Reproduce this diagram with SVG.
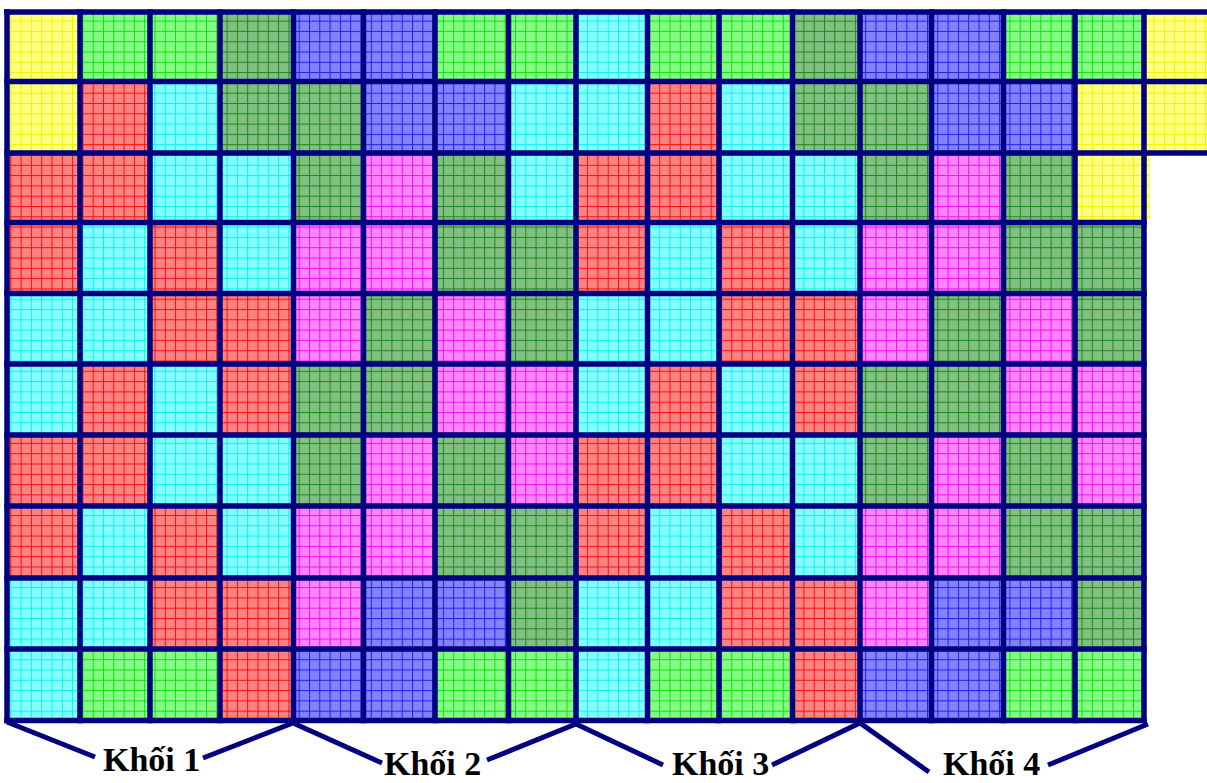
<svg xmlns="http://www.w3.org/2000/svg" width="1207" height="783" viewBox="0 0 1207 783">
<style>
.Y{fill:url(#pY)} .G{fill:url(#pG)} .D{fill:url(#pD)} .B{fill:url(#pB)} .R{fill:url(#pR)} .C{fill:url(#pC)} .M{fill:url(#pM)}
.gl{stroke:#000080;stroke-width:5.5;fill:none;stroke-linecap:square}
.br{stroke:#000080;stroke-width:5;fill:none;stroke-linecap:butt}
.lbl{font-family:"Liberation Serif","Times New Roman",serif;font-weight:bold;font-size:34px;fill:#000}
</style>
<defs>
<pattern id="pY" width="10.3" height="10.3" patternUnits="userSpaceOnUse"><rect width="10.3" height="10.3" fill="#ffff80"/><rect width="1" height="10.3" fill="#f2f200"/><rect width="10.3" height="1" fill="#f2f200"/></pattern>
<pattern id="pG" width="10.3" height="10.3" patternUnits="userSpaceOnUse"><rect width="10.3" height="10.3" fill="#84fc84"/><rect width="1" height="10.3" fill="#10e010"/><rect width="10.3" height="1" fill="#10e010"/></pattern>
<pattern id="pD" width="10.3" height="10.3" patternUnits="userSpaceOnUse"><rect width="10.3" height="10.3" fill="#82bf82"/><rect width="1" height="10.3" fill="#1a8a1a"/><rect width="10.3" height="1" fill="#1a8a1a"/></pattern>
<pattern id="pB" width="10.3" height="10.3" patternUnits="userSpaceOnUse"><rect width="10.3" height="10.3" fill="#8282fc"/><rect width="1" height="10.3" fill="#2020f0"/><rect width="10.3" height="1" fill="#2020f0"/></pattern>
<pattern id="pR" width="10.3" height="10.3" patternUnits="userSpaceOnUse"><rect width="10.3" height="10.3" fill="#ff8282"/><rect width="1" height="10.3" fill="#f41010"/><rect width="10.3" height="1" fill="#f41010"/></pattern>
<pattern id="pC" width="10.3" height="10.3" patternUnits="userSpaceOnUse"><rect width="10.3" height="10.3" fill="#84ffff"/><rect width="1" height="10.3" fill="#10f0f0"/><rect width="10.3" height="1" fill="#10f0f0"/></pattern>
<pattern id="pM" width="10.3" height="10.3" patternUnits="userSpaceOnUse"><rect width="10.3" height="10.3" fill="#ff84ff"/><rect width="1" height="10.3" fill="#f010f0"/><rect width="10.3" height="1" fill="#f010f0"/></pattern>
</defs>
<rect width="1207" height="783" fill="#fff"/>
<g id="cells">
<g id="row-1">
<rect class="Y" x="7" y="12" width="73" height="69.5"/><rect class="G" x="80" y="12" width="70" height="69.5"/><rect class="G" x="150" y="12" width="70" height="69.5"/><rect class="D" x="220" y="12" width="73.5" height="69.5"/><rect class="B" x="293.5" y="12" width="70" height="69.5"/><rect class="B" x="363.5" y="12" width="71.5" height="69.5"/><rect class="G" x="435" y="12" width="73.5" height="69.5"/><rect class="G" x="508.5" y="12" width="67.5" height="69.5"/><rect class="C" x="576" y="12" width="71.5" height="69.5"/><rect class="G" x="647.5" y="12" width="71.5" height="69.5"/><rect class="G" x="719" y="12" width="73.5" height="69.5"/><rect class="D" x="792.5" y="12" width="67.5" height="69.5"/><rect class="B" x="860" y="12" width="71.5" height="69.5"/><rect class="B" x="931.5" y="12" width="72" height="69.5"/><rect class="G" x="1003.5" y="12" width="71.5" height="69.5"/><rect class="G" x="1075" y="12" width="69" height="69.5"/><rect class="Y" x="1144" y="12" width="66" height="69.5"/>
</g>
<g id="row-2">
<rect class="Y" x="7" y="81.5" width="73" height="71.5"/><rect class="R" x="80" y="81.5" width="70" height="71.5"/><rect class="C" x="150" y="81.5" width="70" height="71.5"/><rect class="D" x="220" y="81.5" width="73.5" height="71.5"/><rect class="D" x="293.5" y="81.5" width="70" height="71.5"/><rect class="B" x="363.5" y="81.5" width="71.5" height="71.5"/><rect class="B" x="435" y="81.5" width="73.5" height="71.5"/><rect class="C" x="508.5" y="81.5" width="67.5" height="71.5"/><rect class="C" x="576" y="81.5" width="71.5" height="71.5"/><rect class="R" x="647.5" y="81.5" width="71.5" height="71.5"/><rect class="C" x="719" y="81.5" width="73.5" height="71.5"/><rect class="D" x="792.5" y="81.5" width="67.5" height="71.5"/><rect class="D" x="860" y="81.5" width="71.5" height="71.5"/><rect class="B" x="931.5" y="81.5" width="72" height="71.5"/><rect class="B" x="1003.5" y="81.5" width="71.5" height="71.5"/><rect class="Y" x="1075" y="81.5" width="69" height="71.5"/><rect class="Y" x="1144" y="81.5" width="66" height="71.5"/>
</g>
<g id="row-3">
<rect class="R" x="7" y="153" width="73" height="69.5"/><rect class="R" x="80" y="153" width="70" height="69.5"/><rect class="C" x="150" y="153" width="70" height="69.5"/><rect class="C" x="220" y="153" width="73.5" height="69.5"/><rect class="D" x="293.5" y="153" width="70" height="69.5"/><rect class="M" x="363.5" y="153" width="71.5" height="69.5"/><rect class="D" x="435" y="153" width="73.5" height="69.5"/><rect class="C" x="508.5" y="153" width="67.5" height="69.5"/><rect class="R" x="576" y="153" width="71.5" height="69.5"/><rect class="R" x="647.5" y="153" width="71.5" height="69.5"/><rect class="C" x="719" y="153" width="73.5" height="69.5"/><rect class="C" x="792.5" y="153" width="67.5" height="69.5"/><rect class="D" x="860" y="153" width="71.5" height="69.5"/><rect class="M" x="931.5" y="153" width="72" height="69.5"/><rect class="D" x="1003.5" y="153" width="71.5" height="69.5"/><rect class="Y" x="1075" y="153" width="75" height="67"/>
</g>
<g id="row-4">
<rect class="R" x="7" y="222.5" width="73" height="71"/><rect class="C" x="80" y="222.5" width="70" height="71"/><rect class="R" x="150" y="222.5" width="70" height="71"/><rect class="C" x="220" y="222.5" width="73.5" height="71"/><rect class="M" x="293.5" y="222.5" width="70" height="71"/><rect class="M" x="363.5" y="222.5" width="71.5" height="71"/><rect class="D" x="435" y="222.5" width="73.5" height="71"/><rect class="D" x="508.5" y="222.5" width="67.5" height="71"/><rect class="R" x="576" y="222.5" width="71.5" height="71"/><rect class="C" x="647.5" y="222.5" width="71.5" height="71"/><rect class="R" x="719" y="222.5" width="73.5" height="71"/><rect class="C" x="792.5" y="222.5" width="67.5" height="71"/><rect class="M" x="860" y="222.5" width="71.5" height="71"/><rect class="M" x="931.5" y="222.5" width="72" height="71"/><rect class="D" x="1003.5" y="222.5" width="71.5" height="71"/><rect class="D" x="1075" y="222.5" width="69" height="71"/>
</g>
<g id="row-5">
<rect class="C" x="7" y="293.5" width="73" height="70.5"/><rect class="C" x="80" y="293.5" width="70" height="70.5"/><rect class="R" x="150" y="293.5" width="70" height="70.5"/><rect class="R" x="220" y="293.5" width="73.5" height="70.5"/><rect class="M" x="293.5" y="293.5" width="70" height="70.5"/><rect class="D" x="363.5" y="293.5" width="71.5" height="70.5"/><rect class="M" x="435" y="293.5" width="73.5" height="70.5"/><rect class="D" x="508.5" y="293.5" width="67.5" height="70.5"/><rect class="C" x="576" y="293.5" width="71.5" height="70.5"/><rect class="C" x="647.5" y="293.5" width="71.5" height="70.5"/><rect class="R" x="719" y="293.5" width="73.5" height="70.5"/><rect class="R" x="792.5" y="293.5" width="67.5" height="70.5"/><rect class="M" x="860" y="293.5" width="71.5" height="70.5"/><rect class="D" x="931.5" y="293.5" width="72" height="70.5"/><rect class="M" x="1003.5" y="293.5" width="71.5" height="70.5"/><rect class="D" x="1075" y="293.5" width="69" height="70.5"/>
</g>
<g id="row-6">
<rect class="C" x="7" y="364" width="73" height="71"/><rect class="R" x="80" y="364" width="70" height="71"/><rect class="C" x="150" y="364" width="70" height="71"/><rect class="R" x="220" y="364" width="73.5" height="71"/><rect class="D" x="293.5" y="364" width="70" height="71"/><rect class="D" x="363.5" y="364" width="71.5" height="71"/><rect class="M" x="435" y="364" width="73.5" height="71"/><rect class="M" x="508.5" y="364" width="67.5" height="71"/><rect class="C" x="576" y="364" width="71.5" height="71"/><rect class="R" x="647.5" y="364" width="71.5" height="71"/><rect class="C" x="719" y="364" width="73.5" height="71"/><rect class="R" x="792.5" y="364" width="67.5" height="71"/><rect class="D" x="860" y="364" width="71.5" height="71"/><rect class="D" x="931.5" y="364" width="72" height="71"/><rect class="M" x="1003.5" y="364" width="71.5" height="71"/><rect class="M" x="1075" y="364" width="69" height="71"/>
</g>
<g id="row-7">
<rect class="R" x="7" y="435" width="73" height="71"/><rect class="R" x="80" y="435" width="70" height="71"/><rect class="C" x="150" y="435" width="70" height="71"/><rect class="C" x="220" y="435" width="73.5" height="71"/><rect class="D" x="293.5" y="435" width="70" height="71"/><rect class="M" x="363.5" y="435" width="71.5" height="71"/><rect class="D" x="435" y="435" width="73.5" height="71"/><rect class="M" x="508.5" y="435" width="67.5" height="71"/><rect class="R" x="576" y="435" width="71.5" height="71"/><rect class="R" x="647.5" y="435" width="71.5" height="71"/><rect class="C" x="719" y="435" width="73.5" height="71"/><rect class="C" x="792.5" y="435" width="67.5" height="71"/><rect class="D" x="860" y="435" width="71.5" height="71"/><rect class="M" x="931.5" y="435" width="72" height="71"/><rect class="D" x="1003.5" y="435" width="71.5" height="71"/><rect class="M" x="1075" y="435" width="69" height="71"/>
</g>
<g id="row-8">
<rect class="R" x="7" y="506" width="73" height="72"/><rect class="C" x="80" y="506" width="70" height="72"/><rect class="R" x="150" y="506" width="70" height="72"/><rect class="C" x="220" y="506" width="73.5" height="72"/><rect class="M" x="293.5" y="506" width="70" height="72"/><rect class="M" x="363.5" y="506" width="71.5" height="72"/><rect class="D" x="435" y="506" width="73.5" height="72"/><rect class="D" x="508.5" y="506" width="67.5" height="72"/><rect class="R" x="576" y="506" width="71.5" height="72"/><rect class="C" x="647.5" y="506" width="71.5" height="72"/><rect class="R" x="719" y="506" width="73.5" height="72"/><rect class="C" x="792.5" y="506" width="67.5" height="72"/><rect class="M" x="860" y="506" width="71.5" height="72"/><rect class="M" x="931.5" y="506" width="72" height="72"/><rect class="D" x="1003.5" y="506" width="71.5" height="72"/><rect class="D" x="1075" y="506" width="69" height="72"/>
</g>
<g id="row-9">
<rect class="C" x="7" y="578" width="73" height="71"/><rect class="C" x="80" y="578" width="70" height="71"/><rect class="R" x="150" y="578" width="70" height="71"/><rect class="R" x="220" y="578" width="73.5" height="71"/><rect class="M" x="293.5" y="578" width="70" height="71"/><rect class="B" x="363.5" y="578" width="71.5" height="71"/><rect class="B" x="435" y="578" width="73.5" height="71"/><rect class="D" x="508.5" y="578" width="67.5" height="71"/><rect class="C" x="576" y="578" width="71.5" height="71"/><rect class="C" x="647.5" y="578" width="71.5" height="71"/><rect class="R" x="719" y="578" width="73.5" height="71"/><rect class="R" x="792.5" y="578" width="67.5" height="71"/><rect class="M" x="860" y="578" width="71.5" height="71"/><rect class="B" x="931.5" y="578" width="72" height="71"/><rect class="B" x="1003.5" y="578" width="71.5" height="71"/><rect class="D" x="1075" y="578" width="69" height="71"/>
</g>
<g id="row-10">
<rect class="C" x="7" y="649" width="73" height="71.5"/><rect class="G" x="80" y="649" width="70" height="71.5"/><rect class="G" x="150" y="649" width="70" height="71.5"/><rect class="R" x="220" y="649" width="73.5" height="71.5"/><rect class="B" x="293.5" y="649" width="70" height="71.5"/><rect class="B" x="363.5" y="649" width="71.5" height="71.5"/><rect class="G" x="435" y="649" width="73.5" height="71.5"/><rect class="G" x="508.5" y="649" width="67.5" height="71.5"/><rect class="C" x="576" y="649" width="71.5" height="71.5"/><rect class="G" x="647.5" y="649" width="71.5" height="71.5"/><rect class="G" x="719" y="649" width="73.5" height="71.5"/><rect class="R" x="792.5" y="649" width="67.5" height="71.5"/><rect class="B" x="860" y="649" width="71.5" height="71.5"/><rect class="B" x="931.5" y="649" width="72" height="71.5"/><rect class="G" x="1003.5" y="649" width="71.5" height="71.5"/><rect class="G" x="1075" y="649" width="69" height="71.5"/>
</g>
</g>
<g id="grid-lines">
<path class="gl" d="M7 12V720.5M80 12V720.5M150 12V720.5M220 12V720.5M293.5 12V720.5M363.5 12V720.5M435 12V720.5M508.5 12V720.5M576 12V720.5M647.5 12V720.5M719 12V720.5M792.5 12V720.5M860 12V720.5M931.5 12V720.5M1003.5 12V720.5M1075 12V720.5M1144 12V720.5"/>
<path class="gl" d="M7 12H1210M7 81.5H1210M7 153H1210M7 222.5H1144M7 293.5H1144M7 364H1144M7 435H1144M7 506H1144M7 578H1144M7 649H1144M7 720.5H1144"/>
</g>
<g id="connectors">
<path class="br" d="M7 722L95 757M203 758L293 723L382 763M487 760L576 724L663 765M772 765L860 723L929 772M1048 765L1148 724"/>
</g>
<g id="label-khoi-1"><text class="lbl" x="103" y="771">Khối 1</text></g>
<g id="label-khoi-2"><text class="lbl" x="384" y="775">Khối 2</text></g>
<g id="label-khoi-3"><text class="lbl" x="672" y="775">Khối 3</text></g>
<g id="label-khoi-4"><text class="lbl" x="943" y="775">Khối 4</text></g>
</svg>
